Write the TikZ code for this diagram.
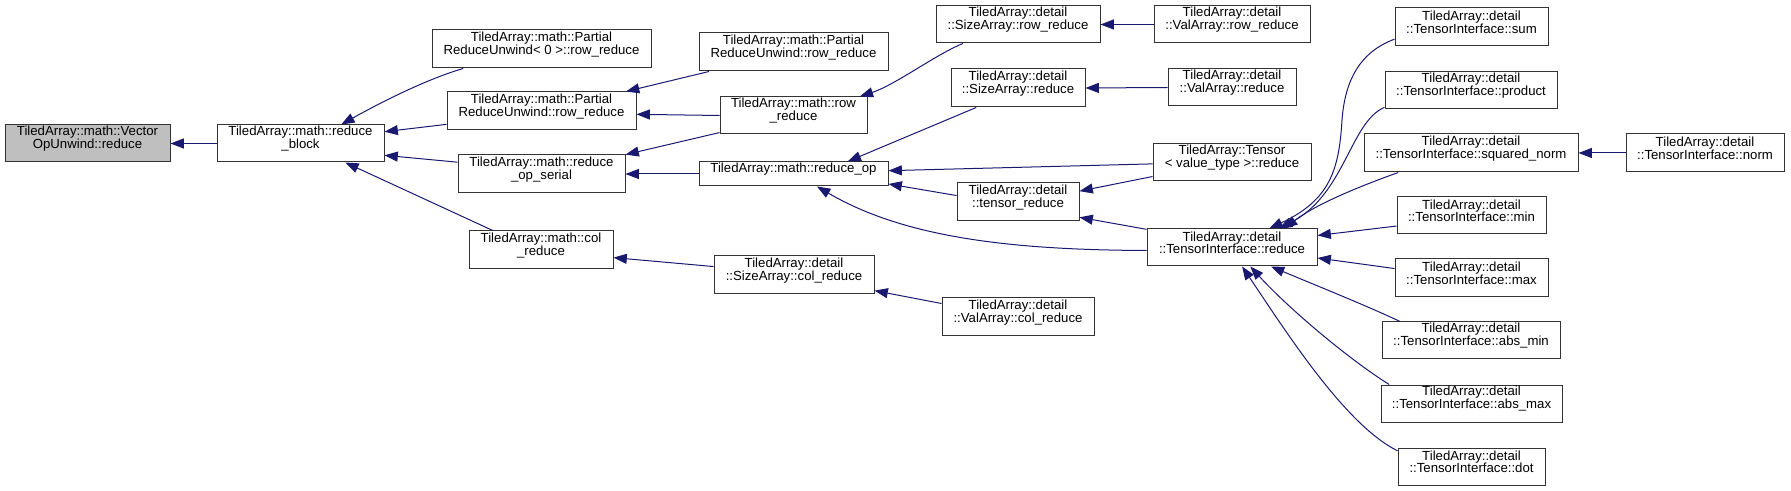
\documentclass[tikz,border=0pt]{standalone}
\usepackage{fontspec}
\setmainfont{Liberation Sans}
\usetikzlibrary{arrows.meta,fit}
\definecolor{edgeblue}{HTML}{191970}
\definecolor{hilite}{HTML}{BFBFBF}
\begin{document}
\begin{tikzpicture}[x=0.75pt,y=-0.75pt,
  nbox/.style={draw=black!80, line width=0.75pt, fill=white, inner sep=0pt,
    font=\fontsize{9.9}{9.6}\selectfont},
  lbox/.style={nbox, align=left},
  cbox/.style={nbox, align=center},
  callarrow/.style={draw=edgeblue, line width=0.75pt,
    -{Triangle[length=10pt,width=7.5pt]}}]
\path[use as bounding box] (0,0) rectangle (1791,491);

% nodes
\node[cbox, fill=hilite, fit={(5,125) (170,162)}] (vec) {TiledArray::math::Vector\\OpUnwind::reduce};
\node[cbox, fit={(217,125) (384,162)}] (rb) {TiledArray::math::reduce\\\_block};
\node[lbox, fit={(432,30) (651,68)}] (pru0) {TiledArray::math::Partial\\ReduceUnwind< 0 >::row\_reduce};
\node[lbox, fit={(447,92) (636,130)}] (prur1) {TiledArray::math::Partial\\ReduceUnwind::row\_reduce};
\node[cbox, fit={(458,155) (625,193)}] (ros) {TiledArray::math::reduce\\\_op\_serial};
\node[cbox, fit={(469,231) (613,269)}] (colr) {TiledArray::math::col\\\_reduce};
\node[lbox, fit={(699,33) (888,71)}] (prur2) {TiledArray::math::Partial\\ReduceUnwind::row\_reduce};
\node[cbox, fit={(720,97) (867,134)}] (rowr) {TiledArray::math::row\\\_reduce};
\node[cbox, fit={(699,162) (888,186)}] (rop) {TiledArray::math::reduce\_op};
\node[lbox, fit={(936,6) (1100,43)}] (sar) {TiledArray::detail\\::SizeArray::row\_reduce};
\node[lbox, fit={(951,69) (1085,107)}] (sared) {TiledArray::detail\\::SizeArray::reduce};
\node[cbox, fit={(957,183) (1079,221)}] (tred) {TiledArray::detail\\::tensor\_reduce};
\node[lbox, fit={(714,256) (874,294)}] (sacol) {TiledArray::detail\\::SizeArray::col\_reduce};
\node[lbox, fit={(942,298) (1094,336)}] (vacol) {TiledArray::detail\\::ValArray::col\_reduce};
\node[lbox, fit={(1154,6) (1310,43)}] (var) {TiledArray::detail\\::ValArray::row\_reduce};
\node[lbox, fit={(1168,69) (1296,106)}] (vared) {TiledArray::detail\\::ValArray::reduce};
\node[cbox, fit={(1153,144) (1311,181)}] (tensor) {TiledArray::Tensor\\< value\_type >::reduce};
\node[lbox, fit={(1147,229) (1317,266)}] (tired) {TiledArray::detail\\::TensorInterface::reduce};
\node[lbox, fit={(1395,8) (1548,46)}] (sum) {TiledArray::detail\\::TensorInterface::sum};
\node[lbox, fit={(1385,72) (1557,109)}] (prod) {TiledArray::detail\\::TensorInterface::product};
\node[lbox, fit={(1364,134) (1578,172)}] (sqn) {TiledArray::detail\\::TensorInterface::squared\_norm};
\node[lbox, fit={(1626,134) (1784,172)}] (norm) {TiledArray::detail\\::TensorInterface::norm};
\node[lbox, fit={(1397,197) (1546,234)}] (min) {TiledArray::detail\\::TensorInterface::min};
\node[lbox, fit={(1395,259) (1548,297)}] (max) {TiledArray::detail\\::TensorInterface::max};
\node[lbox, fit={(1382,322) (1560,359)}] (absmin) {TiledArray::detail\\::TensorInterface::abs\_min};
\node[lbox, fit={(1381,385) (1562,422)}] (absmax) {TiledArray::detail\\::TensorInterface::abs\_max};
\node[lbox, fit={(1398,448) (1545,485)}] (dot) {TiledArray::detail\\::TensorInterface::dot};

% connectors (caller -> callee)
\draw[callarrow] (rb.west) -- (vec.east);
\draw[callarrow] (pru0.194) .. controls (430,78) and (385,100) .. (rb.25);
\draw[callarrow] (prur1.188) -- (rb.8);
\draw[callarrow] (ros.172) -- (rb.-8);
\draw[callarrow] (colr.158) -- (rb.-23);
\draw[callarrow] (prur2.193) -- (prur1.13);
\draw[callarrow] (rowr.180) -- (prur1.-2);
\draw[callarrow] (rowr.193) -- (ros.13);
\draw[callarrow] (rop.west) -- (ros.east);
\draw[callarrow] (sacol.174) -- (colr.-6);
\draw[callarrow] (sar.199) .. controls (935,55) and (895,85) .. (rowr.16);
\draw[callarrow] (sared.205) -- (rop.13);
\draw[callarrow] (tensor.181) -- (rop.2);
\draw[callarrow] (tred.174) -- (rop.-6);
\draw[callarrow] (tired.182) .. controls (1000,250) and (900,235) .. (rop.-28);
\draw[callarrow] (var.west) -- (sar.east);
\draw[callarrow] (vared.west) -- (sared.east);
\draw[callarrow] (tensor.190) -- (tred.10);
\draw[callarrow] (tired.168) -- (tred.-14);
\draw[callarrow] (vacol.170) -- (sacol.-11);
\draw[callarrow] (sum.189) .. controls (1360,52) and (1345,80) .. (1342,120)
   .. controls (1339,170) and (1330,200) .. (tired.27);
\draw[callarrow] (prod.191) .. controls (1350,122) and (1345,195) .. (tired.22);
\draw[callarrow] (sqn.195) .. controls (1355,188) and (1315,205) .. (tired.20);
\draw[callarrow] (min.188) -- (tired.8);
\draw[callarrow] (max.173) -- (tired.-7);
\draw[callarrow] (absmin.165) .. controls (1365,305) and (1315,285) .. (tired.-26);
\draw[callarrow] (absmax.167) .. controls (1350,360) and (1290,310) .. (tired.-46);
\draw[callarrow] (dot.168) .. controls (1345,425) and (1285,330) .. (tired.-62);
\draw[callarrow] (norm.west) -- (sqn.east);
\end{tikzpicture}
\end{document}
